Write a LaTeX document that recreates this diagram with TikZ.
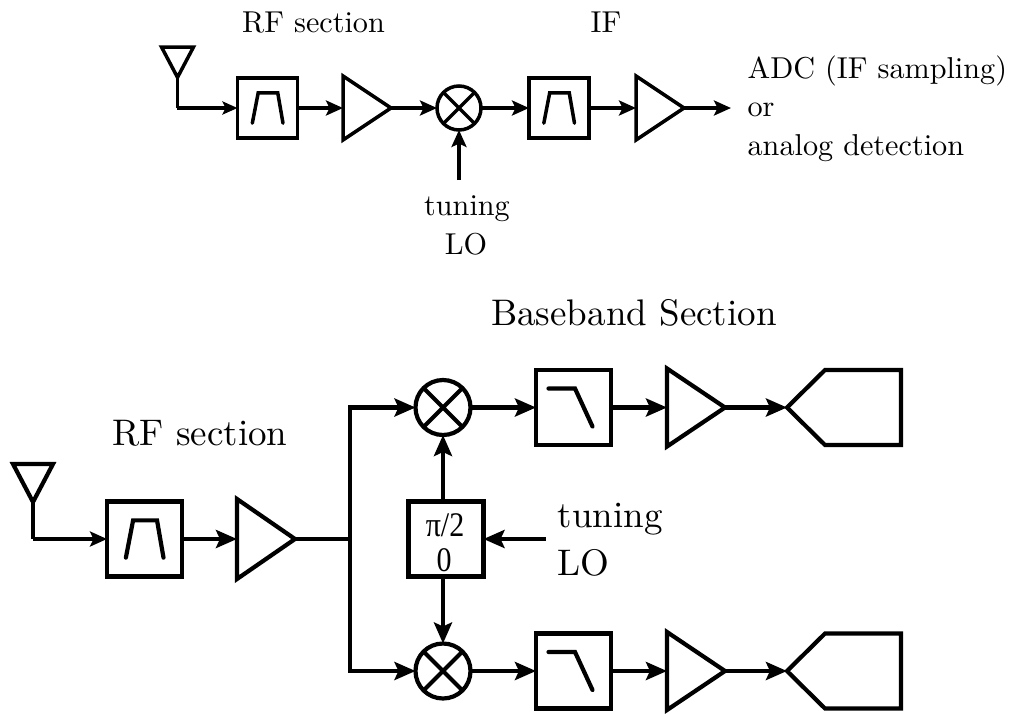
\documentclass[tikz,border=0pt]{standalone}
\usepackage{fontspec}
\newfontfamily\piserif{Liberation Serif}
\usetikzlibrary{arrows.meta}
\def\lw{3.5pt}
\tikzset{
  x=1pt,y=-1pt,
  wire/.style={line width=\lw,line join=miter},
  sigs/.style={wire,-{Stealth[length=15pt,width=13pt,inset=3pt]}},
  sig/.style={wire,-{Stealth[length=17pt,width=15pt,inset=3.5pt]}},
  sigb/.style={wire,-{Stealth[length=21pt,width=18pt,inset=4pt]}},
  blockbox/.style={draw,line width=\lw,minimum size=#1,inner sep=0pt,outer sep=0pt},
  mixer/.style={draw,circle,line width=\lw,minimum size=#1,inner sep=0pt,outer sep=0pt},
  ghost/.style={inner sep=0pt,outer sep=0pt},
  labtop/.style={font=\fontsize{10}{12}\selectfont,inner sep=0pt,scale=3.02,anchor=base},
  labbot/.style={font=\fontsize{10}{12}\selectfont,inner sep=0pt,scale=3.7,anchor=base},
  labpi/.style={font=\piserif\fontsize{30}{36}\selectfont,inner sep=0pt,anchor=base,yscale=1.15},
}
% name, x, y, half-width, half-height
\newcommand{\ampl}[5]{%
  \node[ghost,minimum width=#4*2pt,minimum height=#5*2pt] (#1) at (#2,#3) {};
  \draw[wire] (#1.north west)--(#1.east)--(#1.south west)--cycle;}
\newcommand{\anten}[4]{% name, x, y(top), half width
  \node[ghost,minimum width=#4*2pt,minimum height=#4*1.9pt,anchor=north] (#1) at (#2,#3) {};
  \draw[wire] (#1.north west)--(#1.north east)--(#1.south)--cycle;}
\newcommand{\adcshape}[5]{% name, x, y, width, height
  \node[ghost,minimum width=#4pt,minimum height=#5pt] (#1) at (#2,#3) {};
  \draw[wire] (#1.west)--([xshift=38pt]#1.north west)--(#1.north east)--(#1.south east)--([xshift=38pt]#1.south west)--cycle;}
\newcommand{\crossin}[1]{%
  \draw[wire] (#1.45)--(#1.225) (#1.135)--(#1.315);}
\newcommand{\bandp}[2]{% box, half size
  \draw[wire,line cap=round] ([shift={(-.49*#2,.49*#2)}]#1.center)--([shift={(-.30*#2,-.49*#2)}]#1.center)--([shift={(.33*#2,-.49*#2)}]#1.center)--([shift={(.50*#2,.49*#2)}]#1.center);}
\newcommand{\lowp}[1]{%
  \draw[wire,line cap=round] ([shift={(-25,-19)}]#1.center)--([shift={(1.5,-19)}]#1.center)--([shift={(19,19)}]#1.center);}
\begin{document}
\begin{tikzpicture}
\useasboundingbox (0,0) rectangle (1012,713);
% ---- top chain
\anten{tant}{177.5}{47}{16}
\node[blockbox=60pt] (tbp) at (267.5,108) {};
\bandp{tbp}{31}
\ampl{tamp}{367}{108}{24}{32}
\node[mixer=44pt] (tmix) at (459,108) {};
\crossin{tmix}
\node[blockbox=60pt] (tif) at (559,108) {};
\bandp{tif}{31}
\ampl{tamp2}{660}{108}{24}{32}
\coordinate (tout) at (731,108);
\coordinate (tlo) at (459,180);
\coordinate (tcorner) at (177,108);
\draw[wire] (tant.south)--(tant.south|-tcorner);
\draw[sigs,line cap=square] (tcorner)--(tbp.west);
\draw[sig] (tbp.east)--(tamp.west);
\draw[sig] (tamp.east)--(tmix.west);
\draw[sig] (tmix.east)--(tif.west);
\draw[sig] (tif.east)--(tamp2.west);
\draw[sig] (tamp2.east)--(tout);
\draw[sig] (tlo)--(tmix.south);
\node[labtop] (l1) at (313.5,32) {RF section};
\node[labtop] (l2) at (606,32) {IF};
\node[labtop,anchor=base west] (l3) at (747,78) {ADC (IF sampling)};
\node[labtop,anchor=base west] (l4) at (747,116) {or};
\node[labtop,anchor=base west] (l5) at (747,155) {analog detection};
\node[labtop] (l6) at (467,215) {tuning};
\node[labtop] (l7) at (466,254) {LO};
% ---- bottom chain
\def\lw{4.2pt}
\anten{bant}{33}{464}{20}
\node[blockbox=75pt] (bbp) at (144.5,539) {};
\bandp{bbp}{38}
\ampl{bamp}{266}{539}{29}{40}
\node[mixer=55pt] (mu) at (443,407.5) {};
\crossin{mu}
\node[mixer=55pt] (md) at (443,671) {};
\crossin{md}
\node[blockbox=75pt] (ph) at (446,539) {};
\node[labpi] (phu) at (445,536) {π/2};
\node[labpi] (phd) at (444,571) {0};
\coordinate (split) at (350,539);
\coordinate (lo) at (546,539);
\draw[wire] (bant.south)--(bant.south|-bbp);
\draw[sig,line cap=square] (bant.south|-bbp)--(bbp.west);
\draw[sigb] (bbp.east)--(bamp.west);
\draw[wire] (bamp.east)--(split);
\draw[sigb] (split)--(split|-mu)--(mu.west);
\draw[sigb] (split)--(split|-md)--(md.west);
\draw[sigb] (ph.north-|mu)--(mu.south);
\draw[sigb] (ph.south-|md)--(md.north);
\draw[sigb] (lo)--(ph.east);
\foreach \n/\yy in {u/407.5,d/671}{
  \node[blockbox=75pt] (bf\n) at (573.5,\yy) {};
  \lowp{bf\n}
  \ampl{ba\n}{696}{\yy}{29}{39}
  \adcshape{ad\n}{844}{\yy}{114}{75}
  \draw[sigb] (m\n.east)--(bf\n.west);
  \draw[sigb] (bf\n.east)--(ba\n.west);
  \draw[sigb] (ba\n.east)--(ad\n.west);
}
\node[labbot] (b1) at (200,445.5) {RF section};
\node[labbot] (b2) at (634,325) {Baseband Section};
\node[labbot,anchor=base west] (b3) at (557,527) {tuning};
\node[labbot,anchor=base west] (b4) at (557,575) {LO};
\end{tikzpicture}
\end{document}
